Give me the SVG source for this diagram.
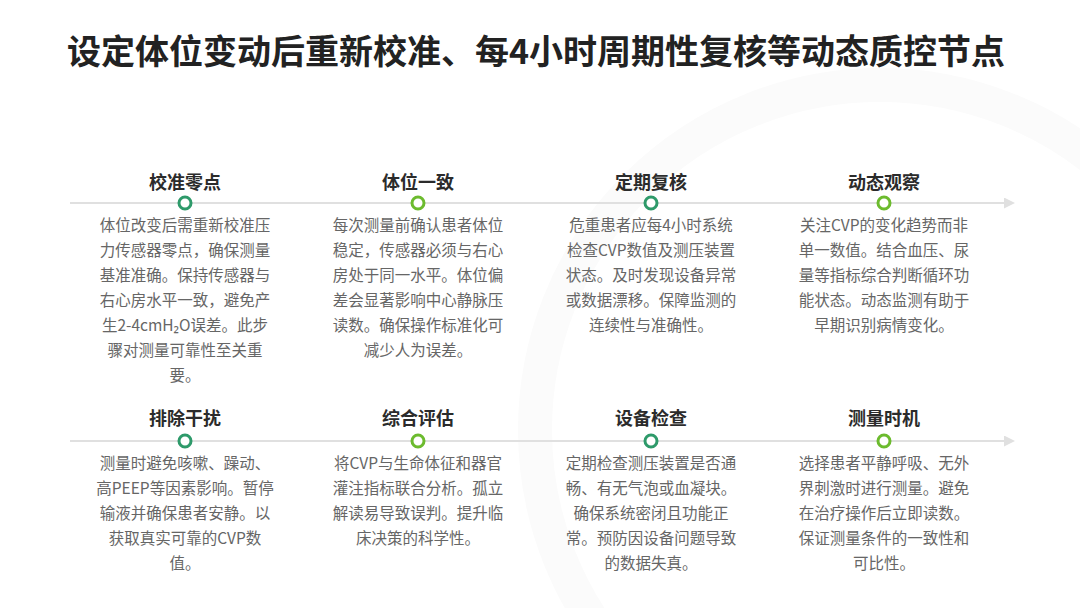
<svg xmlns="http://www.w3.org/2000/svg" width="1080" height="608" viewBox="0 0 1080 608">
<defs>
<style>
text{font-family:"Noto Sans CJK SC","Noto Sans",sans-serif;text-anchor:middle}
.title{font-size:34px;font-weight:700;fill:#222}
.h{font-size:18px;font-weight:700;fill:#2b2b2b}
.b{font-size:15.5px;fill:#666}
.axis{stroke:#e0e0e0;stroke-width:2;fill:none}
.dot1{fill:#fff;stroke:#2e9a6a;stroke-width:3}
.dot2{fill:#fff;stroke:#6cbb2e;stroke-width:3}
</style>
<marker id="arr" viewBox="0 0 10 10" refX="0" refY="5" markerWidth="11" markerHeight="11" markerUnits="userSpaceOnUse" orient="auto">
<path d="M0,0 L10,5 L0,10 Z" fill="#e0e0e0"/>
</marker>
</defs>
<rect width="1080" height="608" fill="#fff"/>
<circle cx="880" cy="430" r="345" fill="none" stroke="#fbfbfb" stroke-width="34"/>
<text class="title" x="536" y="64">设定体位变动后重新校准、每4小时周期性复核等动态质控节点</text>
<g id="connectors">
<line class="axis" x1="70" y1="203" x2="1004" y2="203" marker-end="url(#arr)"/>
<line class="axis" x1="70" y1="441" x2="1004" y2="441" marker-end="url(#arr)"/>
</g>
<g id="n1">
<text class="h" x="185" y="189">校准零点</text>
<circle class="dot1" cx="185" cy="203" r="6"/>
<text class="b" x="185"><tspan x="185" y="231">体位改变后需重新校准压</tspan><tspan x="185" y="256">力传感器零点，确保测量</tspan><tspan x="185" y="281">基准准确。保持传感器与</tspan><tspan x="185" y="306">右心房水平一致，避免产</tspan><tspan x="185" y="331">生2-4cmH₂O误差。此步</tspan><tspan x="185" y="356">骤对测量可靠性至关重</tspan><tspan x="185" y="381">要。</tspan></text>
</g>
<g id="n2">
<text class="h" x="418" y="189">体位一致</text>
<circle class="dot2" cx="418" cy="203" r="6"/>
<text class="b"><tspan x="418" y="231">每次测量前确认患者体位</tspan><tspan x="418" y="256">稳定，传感器必须与右心</tspan><tspan x="418" y="281">房处于同一水平。体位偏</tspan><tspan x="418" y="306">差会显著影响中心静脉压</tspan><tspan x="418" y="331">读数。确保操作标准化可</tspan><tspan x="418" y="356">减少人为误差。</tspan></text>
</g>
<g id="n3">
<text class="h" x="651" y="189">定期复核</text>
<circle class="dot1" cx="651" cy="203" r="6"/>
<text class="b"><tspan x="651" y="231">危重患者应每4小时系统</tspan><tspan x="651" y="256">检查CVP数值及测压装置</tspan><tspan x="651" y="281">状态。及时发现设备异常</tspan><tspan x="651" y="306">或数据漂移。保障监测的</tspan><tspan x="651" y="331">连续性与准确性。</tspan></text>
</g>
<g id="n4">
<text class="h" x="884" y="189">动态观察</text>
<circle class="dot2" cx="884" cy="203" r="6"/>
<text class="b"><tspan x="884" y="231">关注CVP的变化趋势而非</tspan><tspan x="884" y="256">单一数值。结合血压、尿</tspan><tspan x="884" y="281">量等指标综合判断循环功</tspan><tspan x="884" y="306">能状态。动态监测有助于</tspan><tspan x="884" y="331">早期识别病情变化。</tspan></text>
</g>
<g id="n5">
<text class="h" x="185" y="425">排除干扰</text>
<circle class="dot1" cx="185" cy="441" r="6"/>
<text class="b"><tspan x="185" y="469">测量时避免咳嗽、躁动、</tspan><tspan x="185" y="494">高PEEP等因素影响。暂停</tspan><tspan x="185" y="519">输液并确保患者安静。以</tspan><tspan x="185" y="544">获取真实可靠的CVP数</tspan><tspan x="185" y="569">值。</tspan></text>
</g>
<g id="n6">
<text class="h" x="418" y="425">综合评估</text>
<circle class="dot2" cx="418" cy="441" r="6"/>
<text class="b"><tspan x="418" y="469">将CVP与生命体征和器官</tspan><tspan x="418" y="494">灌注指标联合分析。孤立</tspan><tspan x="418" y="519">解读易导致误判。提升临</tspan><tspan x="418" y="544">床决策的科学性。</tspan></text>
</g>
<g id="n7">
<text class="h" x="651" y="425">设备检查</text>
<circle class="dot1" cx="651" cy="441" r="6"/>
<text class="b"><tspan x="651" y="469">定期检查测压装置是否通</tspan><tspan x="651" y="494">畅、有无气泡或血凝块。</tspan><tspan x="651" y="519">确保系统密闭且功能正</tspan><tspan x="651" y="544">常。预防因设备问题导致</tspan><tspan x="651" y="569">的数据失真。</tspan></text>
</g>
<g id="n8">
<text class="h" x="884" y="425">测量时机</text>
<circle class="dot2" cx="884" cy="441" r="6"/>
<text class="b"><tspan x="884" y="469">选择患者平静呼吸、无外</tspan><tspan x="884" y="494">界刺激时进行测量。避免</tspan><tspan x="884" y="519">在治疗操作后立即读数。</tspan><tspan x="884" y="544">保证测量条件的一致性和</tspan><tspan x="884" y="569">可比性。</tspan></text>
</g>
</svg>
